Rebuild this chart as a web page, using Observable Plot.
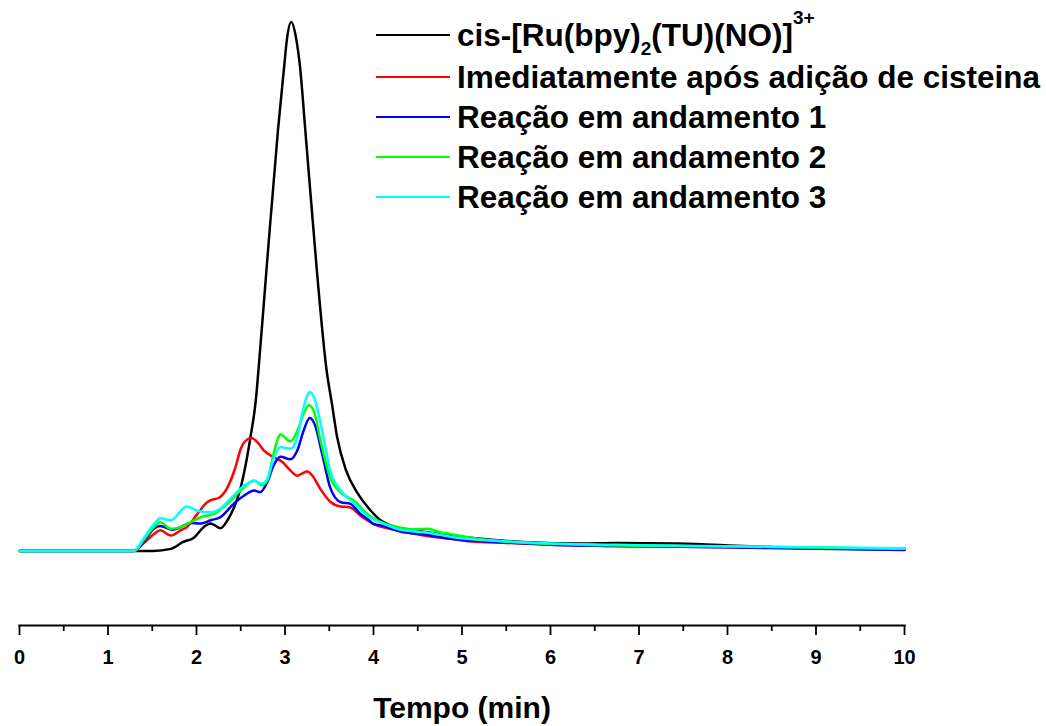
<!DOCTYPE html>
<html><head><meta charset="utf-8">
<script src="https://cdn.jsdelivr.net/npm/d3@7"></script>
<script src="https://cdn.jsdelivr.net/npm/@observablehq/plot@0.6"></script>
<style>
body{margin:0;background:#fff;}
#chart{width:1046px;height:726px;}
svg text{font-family:"Liberation Sans",Arial,sans-serif;font-weight:bold;}
</style>
</head><body><div id="chart"></div>
<script>
// ---- data (time in min, relative signal) ----
const seriesNames = ["cis-[Ru(bpy)2(TU)(NO)]3+","Imediatamente após adição de cisteina","Reação em andamento 1","Reação em andamento 2","Reação em andamento 3"];
const seriesColors = ["#000000","#ff0000","#0000ff","#00ff00","#00ffff"];
const xTicks = [0,1,2,3,4,5,6,7,8,9,10];
const xMinorTicks = [0.5,1.5,2.5,3.5,4.5,5.5,6.5,7.5,8.5,9.5];
const xTitle = "Tempo (min)";

const blackT = [0,1.51,1.71,1.85,1.97,2.08,2.16,2.27,2.35,2.44,2.50,2.55,2.61,2.67,2.70,2.79,2.92,2.99,3.02,3.07,3.13,3.17,3.23,3.36,3.47,3.53,3.59,3.69,3.82,3.97,4.08,4.27,4.45,5.04,5.69,6.35,6.73,7.44,8.09,8.52,10];
const blackV = [0,0,0.4,1.7,2.5,4.5,5.2,4.3,5.8,8.9,12.0,15.8,21.5,28.4,34.1,52.9,79.3,91.3,96.3,99.8,96.3,91.3,79.3,52.9,34.1,27.8,21.4,15.2,10.9,7.6,5.8,4.4,3.9,2.6,1.7,1.4,1.5,1.4,1.0,0.7,0.3];

const redT = [0,1.29,1.40,1.52,1.59,1.71,1.82,1.89,2.01,2.12,2.18,2.25,2.35,2.44,2.50,2.57,2.62,2.69,2.76,2.87,2.97,3.06,3.14,3.19,3.25,3.31,3.40,3.51,3.63,3.70,3.74,3.85,4.00,4.27,4.57,4.87,5.0,5.5,6.0,7.0,8.0,9.0,10];
const redV = [0,0,1.4,3.2,3.9,2.9,3.9,4.5,7.0,9.2,9.7,10.0,12.0,15.8,19.3,21.0,21.3,20.5,19.0,17.7,16.8,15.2,14.2,14.6,15.0,14.2,11.7,9.3,8.4,8.3,8.2,6.7,5.1,3.9,2.9,2.3,2.0,1.5,1.2,0.9,0.7,0.5,0.4];

const blueT = [0,1.29,1.40,1.52,1.59,1.73,1.82,1.93,2.05,2.16,2.27,2.42,2.57,2.65,2.72,2.80,2.87,2.95,3.06,3.14,3.21,3.28,3.34,3.42,3.51,3.63,3.74,3.85,3.93,4.00,4.12,4.29,4.57,4.87,5.5,6.0,7.0,8.0,9.0,10];
const blueV = [0,0,1.7,4.2,4.7,4.0,4.5,5.3,5.2,5.8,6.4,8.9,10.8,11.4,11.1,13.0,16.1,17.8,17.3,19.0,22.7,25.1,23.7,18.3,12.0,9.2,8.9,7.0,6.1,5.1,4.7,3.7,3.1,2.3,1.6,1.2,0.9,0.7,0.4,0.2];

const greenT = [0,1.29,1.40,1.52,1.59,1.71,1.82,1.93,2.05,2.20,2.35,2.50,2.65,2.74,2.80,2.87,2.95,3.06,3.14,3.21,3.27,3.33,3.40,3.51,3.63,3.78,3.93,4.12,4.31,4.45,4.61,4.76,4.87,5.26,6.35,8.09,10];
const greenV = [0,0,2.0,4.5,5.4,4.2,4.5,5.4,6.4,7.0,8.9,11.4,13.3,12.4,13.3,18.3,22.0,20.7,22.7,25.9,27.5,26.2,20.9,13.9,11.0,9.5,7.0,5.2,4.4,4.1,4.2,3.5,3.2,2.1,1.2,0.85,0.4];

const cyanT = [0,1.29,1.40,1.52,1.59,1.71,1.89,2.01,2.16,2.27,2.42,2.57,2.65,2.74,2.80,2.87,2.95,3.06,3.14,3.21,3.28,3.34,3.42,3.51,3.63,3.78,3.93,4.12,4.31,4.64,4.87,5.5,6.0,7.0,8.0,9.0,10];
const cyanV = [0,0,2.3,5.1,6.2,5.8,8.4,7.6,7.3,8.0,10.5,12.7,13.2,12.7,13.6,17.4,19.6,19.3,21.5,27.1,30.0,28.4,22.7,15.2,11.4,9.0,6.6,5.1,4.0,3.4,2.7,1.8,1.4,1.1,0.9,0.7,0.5];

// ---- build table ----
const seriesT = [blackT, redT, blueT, greenT, cyanT];
const seriesV = [blackV, redV, blueV, greenV, cyanV];
const rows = [];
seriesNames.forEach((name, i) => {
  seriesT[i].forEach((t, j) => rows.push({series: name, t, v: seriesV[i][j]}));
});

const W = 1046, H = 726;
const chart = Plot.plot({
  width: W, height: H,
  marginLeft: 19, marginRight: 142, marginTop: 20, marginBottom: 101,
  style: {fontFamily: '"Liberation Sans", Arial, sans-serif', fontWeight: "bold", background: "#fff", overflow: "visible"},
  x: {domain: [0, 10]},
  y: {domain: [-14.06, 100.1], axis: null},
  color: {domain: seriesNames, range: seriesColors},
  marks: [
    ...seriesNames.map((name) =>
      Plot.line(rows.filter(d => d.series === name), {x: "t", y: "v", stroke: "series", strokeWidth: 2.5, curve: "monotone-x"})
    ),
    Plot.axisX({ticks: xMinorTicks, tickSize: 6, strokeWidth: 1.8, tickFormat: () => "", label: null}),
    Plot.axisX({ticks: xTicks, tickSize: 10, strokeWidth: 1.8, tickPadding: 14, fontSize: 20, fontWeight: "bold", label: null, tickFormat: d => String(d)}),
    Plot.frame({anchor: "bottom", strokeWidth: 2.2}),
    Plot.text([xTitle], {frameAnchor: "bottom", dy: 92, fontSize: 30, fontWeight: "bold", lineAnchor: "bottom", fill: "#000"})
  ]
});
document.getElementById("chart").appendChild(chart);

// ---- legend ----
const svg = d3.select(chart);
const legendParts = [
  [["cis-[Ru(bpy)", 0], ["2", 1], ["(TU)(NO)]", 0], ["3+", 2]],
  [[seriesNames[1], 0]],
  [[seriesNames[2], 0]],
  [[seriesNames[3], 0]],
  [[seriesNames[4], 0]]
];
const legendY = [35, 77, 117, 157, 197];
const lg = svg.append("g").attr("text-anchor", "start");
legendParts.forEach((parts, i) => {
  const y = legendY[i];
  lg.append("line").attr("x1", 376).attr("x2", 450).attr("y1", y).attr("y2", y)
    .attr("stroke", seriesColors[i]).attr("stroke-width", 2.2);
  const txt = lg.append("text").attr("x", 457).attr("y", y + 11)
    .attr("text-anchor", "start")
    .attr("font-size", 31.5).attr("font-weight", "bold").attr("fill", "#000");
  parts.forEach(([s, kind]) => {
    const ts = txt.append("tspan").text(s);
    if (kind === 1) ts.attr("font-size", 19).attr("dy", 9);
    else if (kind === 2) ts.attr("font-size", 19).attr("dy", -22);
    else if (parts.length > 1 && s.startsWith("(")) ts.attr("dy", -9);
  });
});
</script>
</body></html>
